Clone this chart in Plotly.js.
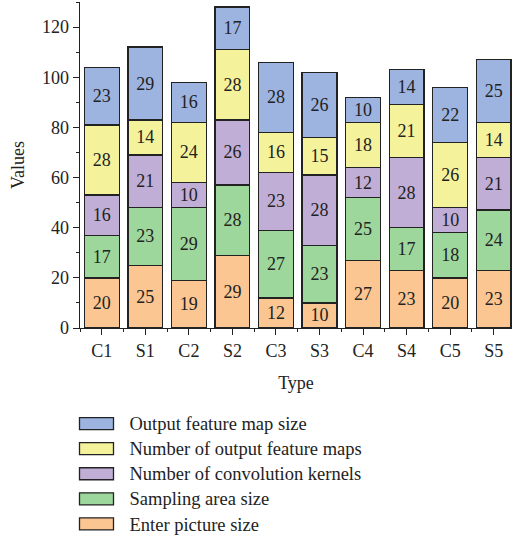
<!DOCTYPE html>
<html>
<head>
<meta charset="utf-8">
<script src="https://cdn.plot.ly/plotly-3.0.1.min.js"></script>
<style>body{margin:0;padding:0;background:#fff;} #chart{width:512px;height:542px;}</style>
</head>
<body>
<div id="chart"></div>
<script>
const categories = ["C1","S1","C2","S2","C3","S3","C4","S4","C5","S5"];
const enterPictureSize = [20,25,19,29,12,10,27,23,20,23];
const samplingAreaSize = [17,23,29,28,27,23,25,17,18,24];
const convolutionKernels = [16,21,10,26,23,28,12,28,10,21];
const outputFeatureMaps = [28,14,24,28,16,15,18,21,26,14];
const outputFeatureMapSize = [23,29,16,17,28,26,10,14,22,25];

const seriesNames = ["Enter picture size","Sampling area size","Number of convolution kernels","Number of output feature maps","Output feature map size"];
const seriesValues = [enterPictureSize, samplingAreaSize, convolutionKernels, outputFeatureMaps, outputFeatureMapSize];
const colors = ["#FBC691","#9DD79B","#C0AED6","#F5F29C","#9DB4E0"];

const xIdx = categories.map((c,i)=>i);
const font = "Liberation Serif, DejaVu Serif, serif";

const traces = seriesNames.map((n,k)=>({
  type:"bar", name:n, x:xIdx, y:seriesValues[k],
  text:seriesValues[k].map(String), textposition:"inside", insidetextanchor:"middle",
  textfont:{family:font,size:18,color:"#222"}, textangle:0,
  marker:{color:colors[k], line:{color:"#222",width:1.3}},
  width:0.8, legendrank:10-k, hoverinfo:"skip"
}));

const layoutLift = 8;
const domShift = 4;
const layout = {
  width:512, height:542,
  margin:{l:80,r:0,t:2,b:214},
  barmode:"stack",
  paper_bgcolor:"#fff", plot_bgcolor:"#fff",
  font:{family:font,size:16,color:"#222"},
  uniformtext:{mode:"show", minsize:18},
  xaxis:{range:[-0.5,9.42], tickvals:xIdx, ticktext:categories, showgrid:false, zeroline:false, automargin:false,
    showline:true, linecolor:"#222", linewidth:1.3, ticks:"outside", ticklen:6, tickcolor:"#222",
    minor:{tickvals:[-0.5,0.5,1.5,2.5,3.5,4.5,5.5,6.5,7.5,8.5], ticks:"outside", ticklen:3, tickcolor:"#222"},
    tickfont:{family:font,size:18,color:"#222"},
    title:{text:"Type", font:{family:font,size:18,color:"#222"}, standoff:16}},
  yaxis:{range:[0,130], tickvals:[0,20,40,60,80,100,120], showgrid:false, zeroline:false, automargin:false,
    showline:true, linecolor:"#222", linewidth:1.3, ticks:"outside", ticklen:6, tickcolor:"#222",
    minor:{dtick:10, tick0:0, ticks:"outside", ticklen:3, tickcolor:"#222"},
    tickfont:{family:font,size:18,color:"#222"},
    title:{text:"Values", font:{family:font,size:18,color:"#222"}, standoff:12}},
  showlegend:true,
  legend:{x:(63.5-80)/432, xanchor:"left", y:(328-(410-layoutLift))/326, yanchor:"top",
    traceorder:"normal",
    font:{family:font,size:17,color:"#222"}, bgcolor:"rgba(0,0,0,0)", itemwidth:56}
};

Plotly.newPlot("chart", traces, layout, {staticPlot:true, displayModeBar:false}).then(()=>{
  const gd = document.getElementById("chart");
  gd.querySelectorAll(".legendpoints path").forEach(p=>{
    p.setAttribute("d","M-17,6H17V-6H-17Z");
  });
  gd.querySelectorAll(".legendtext").forEach(t=>{
    t.style.fontSize = "18.5px";
  });
  gd.querySelectorAll(".legend [clip-path], .legend").forEach(el=>{
    el.removeAttribute("clip-path");
  });
  const leg = gd.querySelector("g.legend");
  if (leg) {
    const tr = leg.getAttribute("transform") || "";
    const m = tr.match(/translate\(([-\d.e]+)[ ,]+([-\d.e]+)\)/);
    if (m) leg.setAttribute("transform", "translate(" + m[1] + "," + (parseFloat(m[2]) + domShift) + ")");
  }
});
</script>
</body>
</html>
